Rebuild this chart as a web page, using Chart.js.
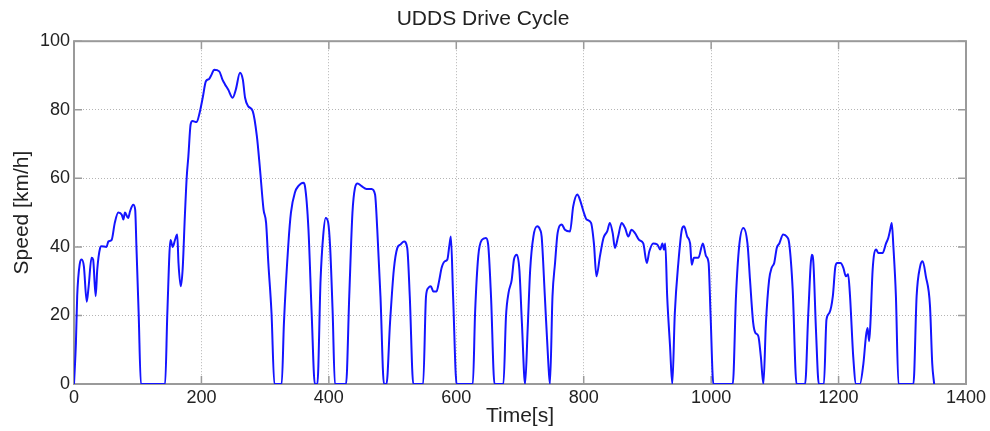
<!DOCTYPE html>
<html>
<head>
<meta charset="utf-8">
<script src="https://cdn.jsdelivr.net/npm/chart.js@4.4.1/dist/chart.umd.min.js"></script>
<style>
  body { margin: 0; background: #fff; }
  canvas { display: block; }
</style>
</head>
<body>
<canvas id="cycle" width="990" height="431"></canvas>
<script>
// UDDS drive cycle
const timeSec = [
  0, 3, 5, 9, 12, 15.5, 20, 23, 27.5, 30, 34, 36.5, 41, 43, 51, 54, 59, 64, 69.5, 75,
  77.5, 80, 85, 88, 93, 96, 98, 101.5, 105, 143, 146.5, 151.5, 155, 158.5, 162, 164, 167.5, 170.5, 174, 177,
  179.5, 183, 186, 192.5, 197, 202, 207, 212, 216, 220, 228, 233, 237, 242, 249, 254, 260.5, 265, 268.5, 273.5,
  280.5, 287, 292, 297.5, 301.5, 305, 310, 314.5, 326, 329.5, 336.5, 340.5, 347, 352, 360, 362.5, 368, 373, 378, 382,
  387, 391, 395, 399, 402, 406, 409.5, 427, 432, 437, 441, 445, 451.5, 459, 467, 472.5, 476, 481, 486.5, 490.5,
  496, 502, 507.5, 512.5, 518, 523, 527, 532.5, 548, 552.5, 556, 560, 564, 569, 573, 577, 582, 586, 589, 591.5,
  595, 600.5, 626, 629.5, 634.5, 640, 646.5, 650, 654.5, 660, 674, 678, 682, 687, 690.5, 695, 699, 703, 708, 712,
  716, 721, 727, 731.5, 734, 739, 744.5, 747, 751, 755, 759, 765.5, 770.5, 778.5, 783.5, 790, 794, 799.5, 804.5, 811.5,
  816, 820, 825.5, 831, 837, 841, 845.5, 849, 854, 859.5, 865, 870, 875, 880.5, 887, 893.5, 899, 903, 909, 915.5,
  920, 923.5, 926, 928, 931, 935.5, 939, 943, 948.5, 954, 957.5, 962.5, 967, 969.5, 973, 980, 987, 992, 996, 999,
  1003.5, 1034, 1039, 1044, 1050.5, 1057, 1061, 1066, 1069.5, 1074, 1078, 1082, 1086, 1091, 1095, 1099, 1103, 1107, 1113, 1118.5,
  1122.5, 1128, 1134, 1147.5, 1152.5, 1158, 1160.5, 1164.5, 1169, 1177, 1181, 1185.5, 1191, 1195, 1198, 1203, 1207.5, 1211.5, 1215, 1218,
  1223, 1227.5, 1233.5, 1239, 1243, 1245.5, 1248, 1250, 1253.5, 1259, 1262.5, 1269, 1274.5, 1278, 1281, 1283.5, 1286, 1290, 1294, 1317.5,
  1322.5, 1328, 1332, 1337, 1343.5, 1347, 1350
];
const speedKmh = [
  0, 12, 25.6, 35, 36.3, 34.3, 24, 28.5, 36.8, 36.3, 25.6, 33.4, 39.7, 40.2, 40, 41.6, 42, 47, 50, 49.4,
  48, 50, 48.4, 50.4, 52.3, 50.9, 40, 20.5, 0, 0, 20.7, 42, 40, 42, 43.6, 35.3, 28.5, 33.4, 49, 60.6,
  66.4, 75.7, 76.7, 76.4, 79, 83.5, 88.3, 89, 90.3, 91.7, 91.2, 88.8, 87.4, 85.9, 83.5, 85.9, 90.8, 88.8, 83.5, 81,
  79.6, 72.3, 62.5, 50.9, 47, 35.3, 20.7, 0, 0, 17.8, 41, 50, 56, 57.7, 58.7, 57.7, 45, 20.7, 0, 0,
  30.4, 43, 48.4, 47, 40, 20.7, 0, 0, 25.6, 49.9, 57.2, 58.5, 57.7, 56.9, 56.9, 55.3, 45, 25.6, 0, 0,
  17.8, 33.4, 39.7, 40.7, 41.6, 39.7, 25.6, 0, 0, 25.6, 28, 28.5, 27, 27, 30, 33.9, 35.8, 36.3, 40.2, 43,
  25.6, 0, 0, 20.7, 37.3, 42, 42.6, 40.7, 25.6, 0, 0, 19.7, 26.6, 30.4, 36.3, 37.7, 33.4, 17.8, 0, 15.9,
  33.4, 43, 46, 45, 43, 25.6, 6, 0, 25.6, 35.3, 44, 46.5, 45, 44.5, 51.8, 55.3, 53.8, 50.4, 48, 47,
  41, 31.4, 37.3, 42.6, 44.6, 47, 44, 39.7, 43, 47, 45.5, 43, 45, 44, 42, 41, 35.3, 38.7, 41, 40.7,
  39.2, 41, 39.2, 41, 25.6, 11, 0, 20.7, 35.3, 45, 46, 43, 41, 34.8, 36.8, 36.8, 41, 37.3, 35.3, 20.7,
  0, 0, 25.6, 40.2, 45.5, 41, 30.4, 17.8, 14.9, 14, 8, 0, 17.8, 30.4, 33.9, 35.3, 39.7, 41, 43.6, 43,
  41, 27.5, 0, 0, 20.7, 37.7, 35.3, 15.9, 0, 0, 18.8, 20.7, 25.6, 34.3, 35.3, 35.3, 33.9, 31.4, 32, 25.6,
  8, 0, 0, 6, 14, 16.3, 12.5, 17.8, 33.4, 39.2, 38.2, 38.2, 41, 42.6, 45, 47, 40.2, 25.6, 0, 0,
  25.6, 34.3, 35.8, 31.4, 22.7, 6, 0
];
const xTickValues = [0, 200, 400, 600, 800, 1000, 1200, 1400];
const yTickValues = [0, 20, 40, 60, 80, 100];

const font = 'Liberation Sans, Arial, Helvetica, sans-serif';
const textColor = '#222';
const frameColor = '#9a9a9a';

// matlab style box with inward tick marks
const axesBox = {
  id: 'axesBox',
  beforeDatasetsDraw(chart) {
    const {ctx, chartArea: a, scales: {x, y}} = chart;
    const len = 8;
    ctx.save();
    ctx.strokeStyle = frameColor;
    ctx.lineWidth = 1.5;
    ctx.beginPath();
    xTickValues.forEach(v => {
      const px = x.getPixelForValue(v);
      ctx.moveTo(px, a.bottom); ctx.lineTo(px, a.bottom - len);
      ctx.moveTo(px, a.top); ctx.lineTo(px, a.top + len);
    });
    yTickValues.forEach(v => {
      const py = y.getPixelForValue(v);
      ctx.moveTo(a.left, py); ctx.lineTo(a.left + len, py);
      ctx.moveTo(a.right, py); ctx.lineTo(a.right - len, py);
    });
    ctx.stroke();
    ctx.lineWidth = 2;
    ctx.strokeRect(a.left, a.top, a.right - a.left, a.bottom - a.top);
    ctx.restore();
  }
};

new Chart(document.getElementById('cycle'), {
  type: 'line',
  data: {
    datasets: [{
      label: 'UDDS',
      data: timeSec.map((t, i) => ({x: t, y: speedKmh[i]})),
      borderColor: '#1414ff',
      borderWidth: 2,
      pointRadius: 0,
      cubicInterpolationMode: 'monotone',
      fill: false
    }]
  },
  options: {
    responsive: false,
    animation: false,
    layout: { padding: { left: 0, right: 24, top: 0, bottom: 0 } },
    plugins: {
      legend: { display: false },
      tooltip: { enabled: false },
      title: {
        display: true,
        text: 'UDDS Drive Cycle',
        color: textColor,
        font: { family: font, size: 21, weight: 'normal' },
        padding: { top: 7, bottom: 9 }
      }
    },
    scales: {
      x: {
        type: 'linear',
        min: 0,
        max: 1400,
        afterBuildTicks: s => { s.ticks = xTickValues.map(v => ({value: v})); },
        afterFit: s => { s.height = 47; },
        ticks: { color: textColor, font: { family: font, size: 18 }, padding: 3, maxRotation: 0,
                 callback: v => String(v) },
        grid: { color: '#b4b4b4', lineWidth: 1, drawTicks: false },
        border: { display: false, dash: [1, 2] },
        title: {
          display: true,
          text: 'Time[s]',
          color: textColor,
          font: { family: font, size: 21 },
          padding: { top: 0, bottom: 2 }
        }
      },
      y: {
        min: 0,
        max: 100,
        afterBuildTicks: s => { s.ticks = yTickValues.map(v => ({value: v})); },
        afterFit: s => { s.width = 74; },
        ticks: { color: textColor, font: { family: font, size: 18 }, padding: 4,
                 callback: v => String(v) },
        grid: { color: '#b4b4b4', lineWidth: 1, drawTicks: false },
        border: { display: false, dash: [1, 2] },
        title: {
          display: true,
          text: 'Speed [km/h]',
          color: textColor,
          font: { family: font, size: 21 },
          padding: { top: 10, bottom: 0 }
        }
      }
    }
  },
  plugins: [axesBox]
});
</script>
</body>
</html>
